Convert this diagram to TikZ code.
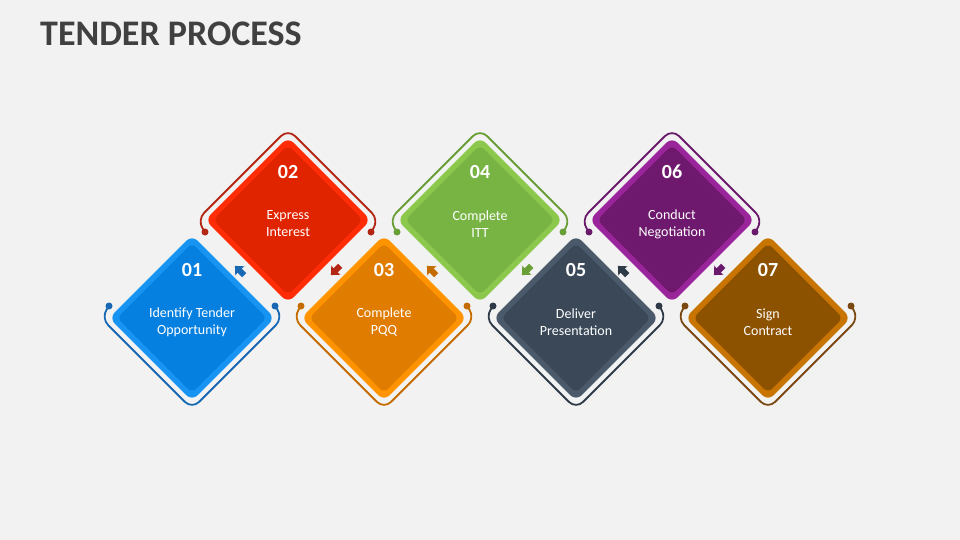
\documentclass[tikz,border=0pt]{standalone}
\usepackage{fontspec}
\setmainfont{Carlito}
\usetikzlibrary{shapes.geometric}
\definecolor{bg}{HTML}{F2F2F2}
\definecolor{titlec}{HTML}{404040}
\definecolor{rimA}{HTML}{1794F2}\definecolor{inA}{HTML}{0580E0}\definecolor{arcA}{HTML}{1868B4}
\definecolor{rimB}{HTML}{FF2C08}\definecolor{inB}{HTML}{E02400}\definecolor{arcB}{HTML}{B32614}
\definecolor{rimC}{HTML}{FF9300}\definecolor{inC}{HTML}{E07C00}\definecolor{arcC}{HTML}{C46C00}
\definecolor{rimD}{HTML}{8CC84B}\definecolor{inD}{HTML}{78B443}\definecolor{arcD}{HTML}{6A9E36}
\definecolor{rimE}{HTML}{4B5A6B}\definecolor{inE}{HTML}{3A4858}\definecolor{arcE}{HTML}{2E3A48}
\definecolor{rimF}{HTML}{9A249A}\definecolor{inF}{HTML}{6E196E}\definecolor{arcF}{HTML}{6A1A6A}
\definecolor{rimG}{HTML}{C87400}\definecolor{inG}{HTML}{8C5200}\definecolor{arcG}{HTML}{7A4810}
\tikzset{
  outerdia/.style={diamond, minimum width=166pt, minimum height=166pt, inner sep=0pt, rounded corners=8pt},
  innerdia/.style={diamond, minimum width=150pt, minimum height=150pt, inner sep=0pt, rounded corners=6pt},
  numtext/.style={text=white, font=\fontsize{20}{22}\selectfont\bfseries},
  labeltext/.style={text=white, align=center, font=\fontsize{14}{17}\selectfont},
  arcline/.style={line width=1.8pt, rounded corners=10pt}
}
\begin{document}
\begin{tikzpicture}[x=1pt,y=-1pt]
\fill[bg] (0,0) rectangle (960,540);
\path[use as bounding box] (0,0) rectangle (960,540);
\node[anchor=base west, text=titlec, inner sep=0pt, font=\fontsize{36}{40}\selectfont\bfseries] (title) at (40,46) {TENDER PROCESS};
\foreach \i/\cx/\cy/\s/\c/\num/\lab in {
  1/192/318/1/A/01/{Identify Tender\\Opportunity},
  2/288/220/-1/B/02/{Express\\Interest},
  3/384/318/1/C/03/{Complete\\PQQ},
  4/480/220/-1/D/04/{Complete\\ITT},
  5/576/318/1/E/05/{Deliver\\Presentation},
  6/672/220/-1/F/06/{Conduct\\Negotiation},
  7/768/318/1/G/07/{Sign\\Contract}}{
  \begin{scope}[shift={(\cx,\cy)}, yscale=\s]
    \draw[arcline, draw=arc\c] (-83,-12) -- (-91,0) -- (0,91) -- (91,0) -- (83,-12);
    \fill[arc\c] (-83,-12) circle (3.5pt) (83,-12) circle (3.5pt);
  \end{scope}
  \node[outerdia, fill=rim\c] (d\i) at (\cx,\cy) {};
  \node[innerdia, fill=in\c] (di\i) at (\cx,\cy) {};
  \node[numtext] (n\i) at (\cx,\cy-48) {\num};
  \node[labeltext] (t\i) at (\cx,\cy+4) {\lab};
}
\foreach \j/\ax/\ay/\rot/\c in {1/240/271/135/A, 2/336/270/225/B, 3/432/271/135/C, 4/527/270/225/D, 5/623/271/135/E, 6/719/270/225/F}{
  \fill[arc\c, shift={(\ax,\ay)}, rotate=\rot, scale=1.2] (6,0) -- (0,5.5) -- (0.5,2.5) -- (-5,2.5) -- (-5,-2.5) -- (0.5,-2.5) -- (0,-5.5) -- cycle;
}
\end{tikzpicture}
\end{document}
